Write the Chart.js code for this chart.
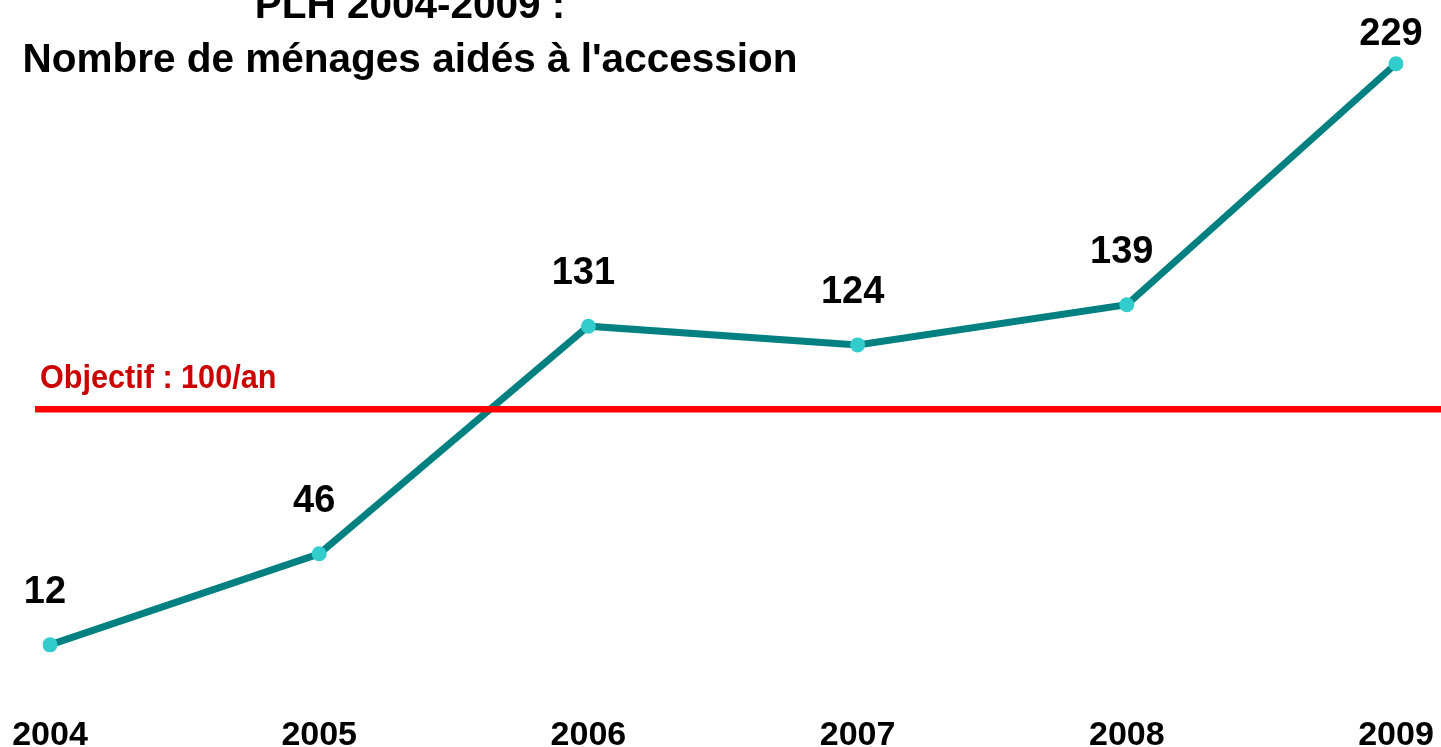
<!DOCTYPE html>
<html>
<head>
<meta charset="utf-8">
<script src="https://cdn.jsdelivr.net/npm/chart.js@4"></script>
<style>
  html, body { margin: 0; padding: 0; background: #fff; }
  #wrap { width: 1441px; height: 747px; }
</style>
</head>
<body>
<div id="wrap"><canvas id="lineChart"></canvas></div>
<script>
const years = ["2004", "2005", "2006", "2007", "2008", "2009"];
const households = [12, 46, 131, 124, 139, 229];
const target = 100;
const titleLines = ["PLH 2004-2009 :", "Nombre de ménages aidés à l'accession"];
const targetLabel = "Objectif : 100/an";

const FONT = "'Liberation Sans', Arial, sans-serif";

// title, target line and point values are drawn by hand
const overlay = {
    id: "overlay",
    afterDatasetsDraw(chart) {
        const ctx = chart.ctx;
        const y = chart.scales.y;
        const meta = chart.getDatasetMeta(0);

        // target line, over the series
        const ty = y.getPixelForValue(target);
        ctx.save();
        ctx.strokeStyle = "#ff0000";
        ctx.lineWidth = 6.5;
        ctx.beginPath();
        ctx.moveTo(35, ty);
        ctx.lineTo(chart.width, ty);
        ctx.stroke();

        ctx.fillStyle = "#cc0000";
        ctx.font = "bold 34px " + FONT;
        ctx.textAlign = "left";
        ctx.textBaseline = "alphabetic";
        ctx.save();
        ctx.translate(40, ty - 21);
        ctx.scale(0.9, 1);
        ctx.fillText(targetLabel, 0, 0);
        ctx.restore();

        // values above the points
        ctx.fillStyle = "#000";
        ctx.font = "bold 38px " + FONT;
        ctx.textAlign = "center";
        meta.data.forEach((pt, i) => {
            const by = Math.max(pt.y - 42, 45);
            ctx.fillText(String(households[i]), pt.x - 5, by);
        });

        // title
        ctx.font = "bold 40.5px " + FONT;
        titleLines.forEach((line, i) => {
            ctx.fillText(line, 410, 18 + i * 54);
        });
        ctx.restore();
    }
};

document.addEventListener("DOMContentLoaded", function () {
    const ctx = document.getElementById("lineChart").getContext("2d");

    new Chart(ctx, {
        type: "line",
        data: {
            labels: years,
            datasets: [{
                label: "Ménages aidés",
                data: households,
                borderColor: "#008080",
                borderWidth: 7,
                pointRadius: 7.5,
                pointBackgroundColor: "#33cccc",
                pointBorderWidth: 0,
                tension: 0
            }]
        },
        options: {
            responsive: true,
            maintainAspectRatio: false,
            animation: false,
            layout: { padding: { left: 50, right: 45, top: 7, bottom: 0 } },
            plugins: {
                legend: { display: false },
                title: { display: false },
                tooltip: { enabled: false }
            },
            scales: {
                x: {
                    offset: false,
                    grid: { display: false, drawTicks: false },
                    border: { display: false },
                    afterFit(scale) {
                        // fixed axis band, no extra room for the end labels
                        scale.height = 70;
                        scale.paddingLeft = 0;
                        scale.paddingRight = 0;
                    },
                    ticks: {
                        color: "#000",
                        padding: 42,
                        maxRotation: 0,
                        font: { family: FONT, size: 34, weight: "bold", lineHeight: 1 }
                    }
                },
                y: {
                    display: false,
                    min: 0,
                    max: 250
                }
            }
        },
        plugins: [overlay]
    });
});
</script>
</body>
</html>
